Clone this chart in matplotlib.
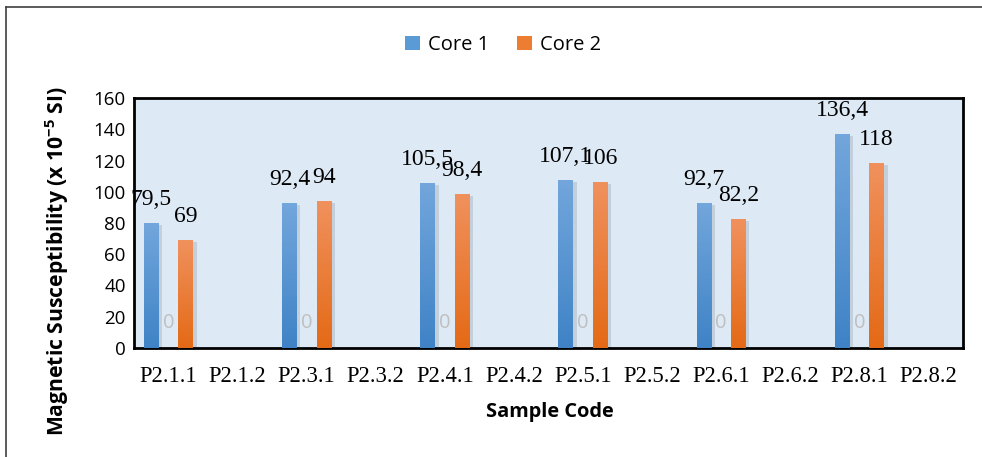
import numpy as np
import matplotlib
matplotlib.use("Agg")
import matplotlib.pyplot as plt
from matplotlib.patches import Patch
from matplotlib.lines import Line2D
import matplotlib.patheffects as pe

categories = ["P2.1.1", "P2.1.2", "P2.3.1", "P2.3.2", "P2.4.1", "P2.4.2",
              "P2.5.1", "P2.5.2", "P2.6.1", "P2.6.2", "P2.8.1", "P2.8.2"]
core1 = [79.5, None, 92.4, None, 105.5, None, 107.1, None, 92.7, None, 136.4, None]
core2 = [69, None, 94, None, 98.4, None, 106, None, 82.2, None, 118, None]
hidden = [0, None, 0, None, 0, None, 0, None, 0, None, 0, None]
yticks = [0, 20, 40, 60, 80, 100, 120, 140, 160]

plt.rcParams['mathtext.fontset'] = 'custom'
plt.rcParams['mathtext.rm'] = 'Open Sans'
plt.rcParams['mathtext.bf'] = 'Open Sans:bold'

fig = plt.figure(figsize=(9.82, 4.57), dpi=100)
ax = fig.add_axes([134/982, 1-348/457, (963-134)/982, (348-98)/457])
ax.set_facecolor('#DDE9F5')

x = np.arange(len(categories))
off = 0.25
w = 0.215

def fmt(v):
    s = ('%.1f' % v).rstrip('0').rstrip('.')
    return s.replace('.', ',')

def grad_bar(xc, h, top, bottom):
    rect = ax.bar(xc, h, width=w, color='none', edgecolor='none', zorder=2)[0]
    rect.set_path_effects([pe.SimplePatchShadow(offset=(2.5, -1), shadow_rgbFace='#8a95a1', alpha=0.3)])
    c1 = np.array(matplotlib.colors.to_rgb(top))
    c2 = np.array(matplotlib.colors.to_rgb(bottom))
    t = np.linspace(0, 1, 64)[:, None]
    img = (c1 * (1 - t) + c2 * t)[:, None, :]
    ax.imshow(img, extent=[xc - w/2, xc + w/2, 0, h], aspect='auto', zorder=3,
              interpolation='bilinear', origin='upper')

lab_kw = dict(textcoords='offset points', ha='center', va='center', fontsize=17,
              family='Liberation Serif', color='black', zorder=5)
for i in range(len(categories)):
    if core1[i] is not None:
        grad_bar(x[i] - off, core1[i], '#72A6DC', '#3F83C6')
        ax.annotate(fmt(core1[i]), (x[i] - off, core1[i]), xytext=(0, 17.3), **lab_kw)
    if core2[i] is not None:
        grad_bar(x[i] + off, core2[i], '#F0915D', '#E46A16')
        ax.annotate(fmt(core2[i]), (x[i] + off, core2[i]), xytext=(0, 17.3), **lab_kw)
    if hidden[i] is not None:
        ax.annotate(fmt(hidden[i]), (x[i], hidden[i]), xytext=(0, 18), textcoords='offset points',
                    ha='center', va='center', fontsize=14.5, family='Open Sans', color='#BFBFBF', zorder=5)

ax.set_xlim(-0.5, len(categories) - 0.5)
ax.set_ylim(0, 160)
ax.set_yticks(yticks)
ax.set_yticklabels([str(v) for v in yticks], fontsize=13.5, family='Open Sans', color='#000000')
ax.set_xticks(x)
ax.set_xticklabels(categories, fontsize=16.3, family='Liberation Serif', color='#000000')
ax.tick_params(axis='both', length=0)
ax.tick_params(axis='y', pad=6)
ax.tick_params(axis='x', pad=13)
for s in ax.spines.values():
    s.set_color('#000000')
    s.set_linewidth(2)

ax.set_xlabel('Sample Code', fontsize=14.4, fontweight='bold', family='Open Sans')
ax.xaxis.set_label_coords((550-134)/829, (348-412)/250)
ax.xaxis.label.set_va('center')
ax.set_ylabel(r'Magnetic Susceptibility (x 10$^{\mathbf{-5}}$ SI)', fontsize=15.2, fontweight='bold',
              family='Open Sans')
ax.yaxis.set_label_coords((57-134)/829, (348-261.5)/250)
ax.yaxis.label.set_va('center')

handles = [Patch(facecolor='#5B9BD5', label='Core 1'), Patch(facecolor='#ED7D31', label='Core 2')]
fig.legend(handles=handles, loc='center', bbox_to_anchor=(503/982, 1-45/457), ncol=2, frameon=False,
           prop={'family': 'Open Sans', 'size': 14.5}, handlelength=0.75, handleheight=0.75,
           handletextpad=0.4, columnspacing=1.4)

fig.add_artist(Line2D([6/982, 6/982], [0, 1-7/457], transform=fig.transFigure, color='#404040', lw=1.2))
fig.add_artist(Line2D([6/982, 1], [1-7/457, 1-7/457], transform=fig.transFigure, color='#404040', lw=1.2))

fig.savefig('out.png', dpi=100)
